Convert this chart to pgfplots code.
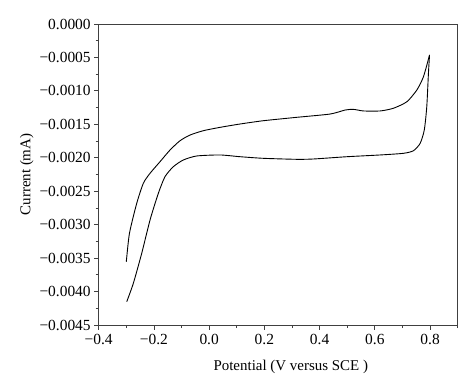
\documentclass[border=0pt]{standalone}
\usepackage{fontspec}
\setmainfont{Liberation Serif}
\usepackage{pgfplots}
\pgfplotsset{compat=1.18}
\begin{document}
\begin{tikzpicture}[x=1bp,y=1bp]
\begin{axis}[
  scale only axis,
  width=359bp, height=301bp,
  xmin=-0.4, xmax=0.9,
  ymin=-0.0045, ymax=0,
  axis line style={black!75, line width=0.8bp},
  every tick/.style={black!75, line width=0.8bp},
  tick align=outside,
  major tick length=4.5bp,
  minor tick length=3bp,
  xtick={-0.4,-0.2,0,0.2,0.4,0.6,0.8},
  xticklabels={−0.4,−0.2,0.0,0.2,0.4,0.6,0.8},
  minor xtick={-0.3,-0.1,0.1,0.3,0.5,0.7,0.9},
  ytick={0,-0.0005,-0.001,-0.0015,-0.002,-0.0025,-0.003,-0.0035,-0.004,-0.0045},
  yticklabels={0.0000,−0.0005,−0.0010,−0.0015,−0.0020,−0.0025,−0.0030,−0.0035,−0.0040,−0.0045},
  minor ytick={-0.00025,-0.00075,-0.00125,-0.00175,-0.00225,-0.00275,-0.00325,-0.00375,-0.00425},
  xtick pos=bottom, ytick pos=left,
  scaled y ticks=false,
  tick label style={font=\fontsize{15.5}{17}\selectfont},
  xticklabel style={yshift=-1bp},
  label style={font=\fontsize{15}{17}\selectfont},
  xlabel={Potential (V versus SCE )},
  ylabel={Current (mA)},
  xlabel style={at={(axis description cs:0.535,0)}, anchor=north, yshift=-32bp},
  ylabel style={yshift=-1bp},
  clip=false,
]
\addplot[black, line width=0.9bp, smooth, tension=0.4] coordinates {
(-0.2985,-0.004152) (-0.2746,-0.003877) (-0.2442,-0.003428) (-0.2141,-0.00293)
(-0.184,-0.002531) (-0.16,-0.002283) (-0.1297,-0.002133) (-0.0935,-0.002033)
(-0.0449,-0.001973) (0.0395,-0.001958) (0.112,-0.001984) (0.196,-0.002008)
(0.3175,-0.002023) (0.378,-0.002018) (0.499,-0.001984) (0.619,-0.001958)
(0.704,-0.001933) (0.740,-0.001894) (0.764,-0.001784) (0.779,-0.001585)
(0.788,-0.001236) (0.794,-0.000738) (0.798,-0.000463)
};
\addplot[black, line width=0.9bp, smooth, tension=0.4] coordinates {
(0.798,-0.000463) (0.776,-0.000788) (0.752,-0.000987) (0.716,-0.001162)
(0.667,-0.00126) (0.619,-0.0013) (0.559,-0.0013) (0.5225,-0.001276)
(0.4925,-0.001286) (0.438,-0.001346) (0.3175,-0.001395) (0.196,-0.001446)
(0.112,-0.001495) (0.0395,-0.001545) (-0.021,-0.001595) (-0.0692,-0.00166)
(-0.1055,-0.001745) (-0.1417,-0.001884) (-0.178,-0.002059) (-0.2141,-0.002232)
(-0.2384,-0.002382) (-0.2623,-0.002681) (-0.2886,-0.003129) (-0.3,-0.003554)
};
\end{axis}
\pgfresetboundingbox
\path[use as bounding box] ([xshift=-98.7bp,yshift=-66bp]current axis.south west) rectangle ([xshift=16.3bp,yshift=24bp]current axis.north east);
\end{tikzpicture}
\end{document}
